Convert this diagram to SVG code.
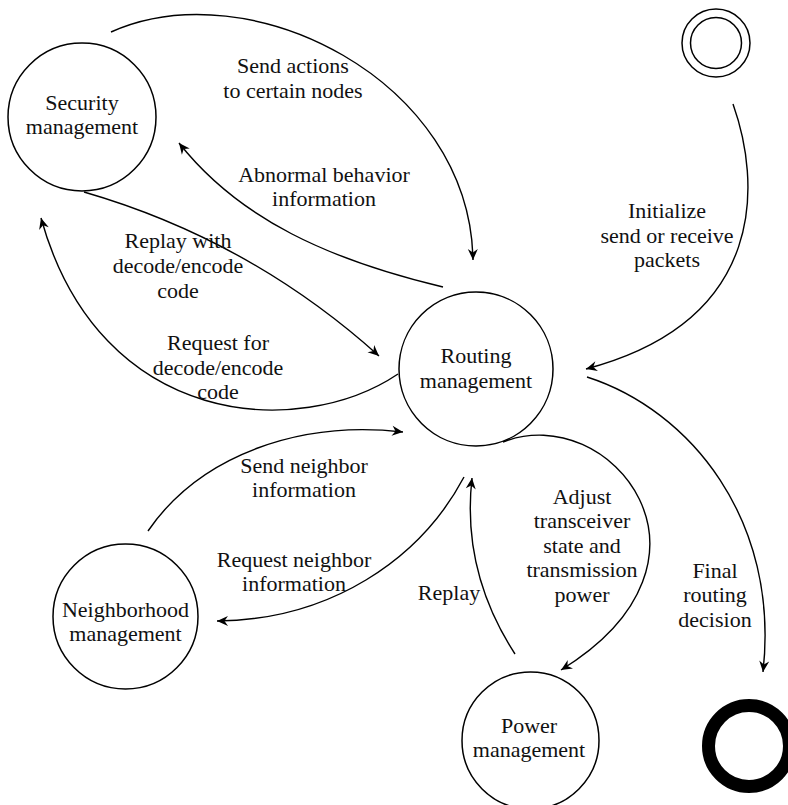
<svg xmlns="http://www.w3.org/2000/svg" width="788" height="805" viewBox="0 0 788 805">
<style>
  .node{fill:#fff;stroke:#000;stroke-width:1.5}
  .lbl{font-family:"Liberation Serif","Times New Roman",serif;font-size:22px;fill:#111;text-anchor:middle}
  .edge{fill:none;stroke:#000;stroke-width:1.4;marker-end:url(#arr)}
</style>
<defs>
  <marker id="arr" markerUnits="userSpaceOnUse" markerWidth="14" markerHeight="12" viewBox="-12 -6 14 12" refX="0" refY="0" orient="auto">
    <path d="M0,0 L-11,-5 L-7.5,0 L-11,5 Z" fill="#000"/>
  </marker>
</defs>
<rect width="788" height="805" fill="#fff"/>
<g id="connectors">
  <path class="edge" d="M111,32 C250,-30 470,80 473,260"/>
  <path class="edge" d="M443,287 C330,260 240,220 179,143"/>
  <path class="edge" d="M84,192 Q250,240 379,356"/>
  <path class="edge" d="M398,374 C300,440 100,430 41,218"/>
  <path class="edge" d="M733,104 C760,180 770,320 586,369"/>
  <path class="edge" d="M587,377 C690,410 780,520 763,672"/>
  <path class="edge" d="M148,531 C200,455 300,420 403,432"/>
  <path class="edge" d="M464,477 C420,560 330,620 217,621"/>
  <path class="edge" d="M503,442 C610,400 740,560 561,670"/>
  <path class="edge" d="M515,654 C480,600 465,540 472,478"/>
</g>
<g id="edge-labels">
  <text class="lbl" x="293" y="73">Send actions</text>
  <text class="lbl" x="293" y="98">to certain nodes</text>
  <text class="lbl" x="324" y="182">Abnormal behavior</text>
  <text class="lbl" x="324" y="206">information</text>
  <text class="lbl" x="178" y="248">Replay with</text>
  <text class="lbl" x="178" y="273">decode/encode</text>
  <text class="lbl" x="178" y="298">code</text>
  <text class="lbl" x="218" y="350">Request for</text>
  <text class="lbl" x="218" y="375">decode/encode</text>
  <text class="lbl" x="218" y="399">code</text>
  <text class="lbl" x="667" y="218">Initialize</text>
  <text class="lbl" x="667" y="243">send or receive</text>
  <text class="lbl" x="667" y="267">packets</text>
  <text class="lbl" x="304" y="473">Send neighbor</text>
  <text class="lbl" x="304" y="497">information</text>
  <text class="lbl" x="294" y="567">Request neighbor</text>
  <text class="lbl" x="294" y="591">information</text>
  <text class="lbl" x="582" y="504">Adjust</text>
  <text class="lbl" x="582" y="528">transceiver</text>
  <text class="lbl" x="582" y="553">state and</text>
  <text class="lbl" x="582" y="577">transmission</text>
  <text class="lbl" x="582" y="602">power</text>
  <text class="lbl" x="449" y="600">Replay</text>
  <text class="lbl" x="715" y="578">Final</text>
  <text class="lbl" x="715" y="602">routing</text>
  <text class="lbl" x="715" y="627">decision</text>
</g>
<g id="security">
  <circle class="node" cx="82" cy="117" r="74"/>
  <text class="lbl" x="82" y="110">Security</text>
  <text class="lbl" x="82" y="134">management</text>
</g>
<g id="routing">
  <circle class="node" cx="476" cy="369" r="77"/>
  <text class="lbl" x="476" y="363">Routing</text>
  <text class="lbl" x="476" y="388">management</text>
</g>
<g id="neighborhood">
  <circle class="node" cx="125.5" cy="616.5" r="72.5"/>
  <text class="lbl" x="125.5" y="617">Neighborhood</text>
  <text class="lbl" x="125.5" y="641">management</text>
</g>
<g id="power">
  <circle class="node" cx="530.5" cy="740.5" r="68.5"/>
  <text class="lbl" x="529" y="733">Power</text>
  <text class="lbl" x="529" y="757">management</text>
</g>
<g id="start">
  <circle cx="716" cy="43" r="34" fill="#fff" stroke="#000" stroke-width="1.5"/>
  <circle cx="716" cy="43" r="25.5" fill="#fff" stroke="#000" stroke-width="1.5"/>
</g>
<g id="end">
  <circle cx="749" cy="746" r="40.5" fill="none" stroke="#000" stroke-width="13"/>
</g>
</svg>
